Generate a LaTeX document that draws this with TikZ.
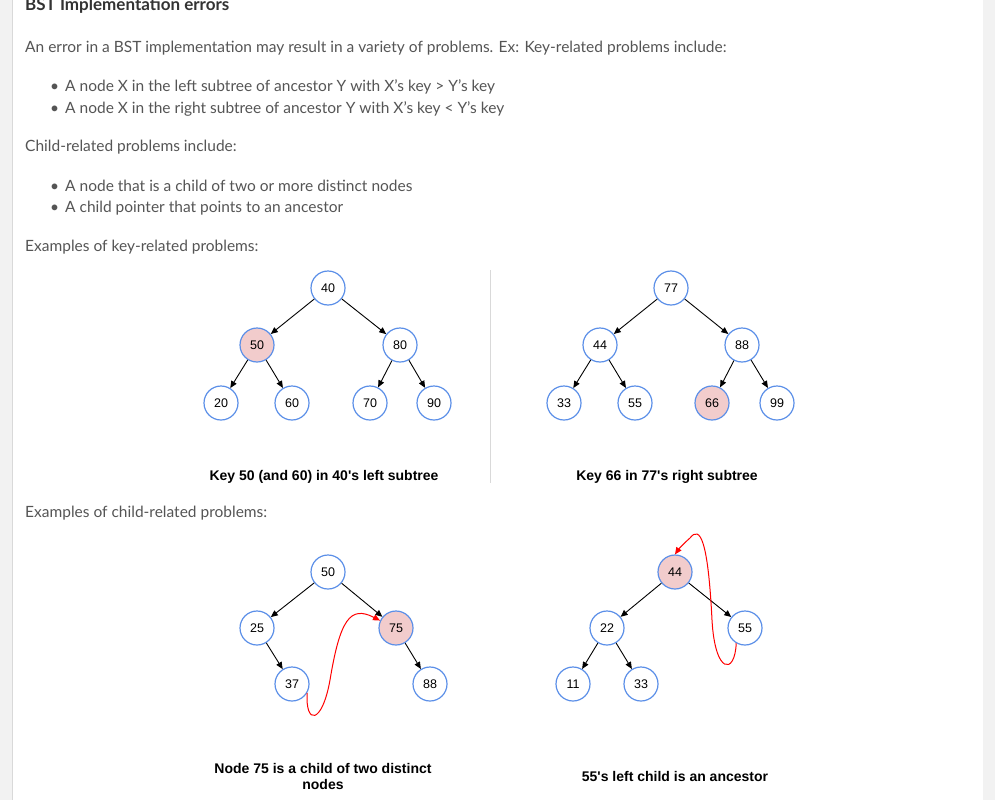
\documentclass[tikz,border=0pt]{standalone}
\usepackage{fontspec}
\setmainfont{Lato}
\newfontfamily\arial{Liberation Sans}
\usetikzlibrary{arrows.meta}
\definecolor{txt}{HTML}{555555}
\definecolor{bl}{HTML}{5B8FE8}
\definecolor{pk}{HTML}{F2CCCC}
\tikzset{
 tn/.style={circle,draw=bl,line width=1.2pt,fill=white,minimum size=34pt,inner sep=0pt,font=\arial\fontsize{12.5}{14}\selectfont},
 hl/.style={tn,fill=pk},
 ed/.style={-{Triangle[length=7pt,width=6pt]},line width=0.9pt},
 rd/.style={red,line width=1pt,-{Triangle[length=7pt,width=6pt]}},
 body/.style={anchor=west,text=txt,font=\fontsize{15.5}{18}\selectfont,inner sep=0pt},
 captxt/.style={font=\arial\bfseries\fontsize{14}{16}\selectfont,align=center}
}
\begin{document}
\begin{tikzpicture}[x=1pt,y=-1pt]
\useasboundingbox (0,0) rectangle (995,800);
\fill[gray!10] (0,0) rectangle (995,800);
\fill[white] (12,0) rectangle (983,800);
\draw[gray!30] (12,0) -- (12,800);
\node[anchor=west,inner sep=0pt,text=black!80,font=\bfseries\fontsize{17}{19}\selectfont] (t) at (25,6) {BST Implementation errors};
\node[body] (p1) at (25,48) {An error in a BST implementation may result in a variety of problems. Ex: Key-related problems include:};
\node[body] (b1) at (50,87) {\textbullet\hspace{6pt}A node X in the left subtree of ancestor Y with X's key > Y's key};
\node[body] (b2) at (50,109) {\textbullet\hspace{6pt}A node X in the right subtree of ancestor Y with X's key < Y's key};
\node[body] (p2) at (25,147) {Child-related problems include:};
\node[body] (b3) at (50,186) {\textbullet\hspace{6pt}A node that is a child of two or more distinct nodes};
\node[body] (b4) at (50,208) {\textbullet\hspace{6pt}A child pointer that points to an ancestor};
\node[body] (p3) at (25,247) {Examples of key-related problems:};
\node[body] (p4) at (25,513) {Examples of child-related problems:};
\draw[gray!30,line width=1pt] (490,270) -- (490,483);
% tree 1
\node[tn] (a40) at (328,288) {40};
\node[hl] (a50) at (257,345) {50};
\node[tn] (a80) at (400,345) {80};
\node[tn] (a20) at (221,403) {20};
\node[tn] (a60) at (292,403) {60};
\node[tn] (a70) at (370,403) {70};
\node[tn] (a90) at (434,403) {90};
\foreach \p/\c in {a40/a50,a40/a80,a50/a20,a50/a60,a80/a70,a80/a90} \draw[ed] (\p) -- (\c);
\node[captxt] (c1) at (324,477) {Key 50 (and 60) in 40's left subtree};
% tree 2
\node[tn] (b77) at (671,288) {77};
\node[tn] (b44) at (600,345) {44};
\node[tn] (b88) at (742,345) {88};
\node[tn] (b33) at (564,403) {33};
\node[tn] (b55) at (635,403) {55};
\node[hl] (b66) at (712,403) {66};
\node[tn] (b99) at (777,403) {99};
\foreach \p/\c in {b77/b44,b77/b88,b44/b33,b44/b55,b88/b66,b88/b99} \draw[ed] (\p) -- (\c);
\node[captxt] (c2) at (667,477) {Key 66 in 77's right subtree};
% tree 3
\node[tn] (c50) at (328,572) {50};
\node[tn] (c25) at (257,628) {25};
\node[hl] (c75) at (396,628) {75};
\node[tn] (c37) at (292,684) {37};
\node[tn] (c88) at (430,684) {88};
\foreach \p/\c in {c50/c25,c50/c75,c25/c37,c75/c88} \draw[ed] (\p) -- (\c);
\draw[rd] (c37.-30) .. controls (305,725) and (322,725) .. (330,680) .. controls (340,620) and (350,605) .. (c75.155);
\node[captxt] (c3) at (323,776) {Node 75 is a child of two distinct\\nodes};
% tree 4
\node[hl] (d44) at (675,572) {44};
\node[tn] (d22) at (607,628) {22};
\node[tn] (d55) at (745,628) {55};
\node[tn] (d11) at (573,684) {11};
\node[tn] (d33) at (641,684) {33};
\foreach \p/\c in {d44/d22,d44/d55,d22/d11,d22/d33} \draw[ed] (\p) -- (\c);
\draw[rd] (d55.-120) .. controls (735,675) and (715,675) .. (712,620) .. controls (708,540) and (700,525) .. (690,538) .. controls (682,545) and (678,550) .. (d44.north);
\node[captxt] (c4) at (675,776) {55's left child is an ancestor};
\end{tikzpicture}
\end{document}
